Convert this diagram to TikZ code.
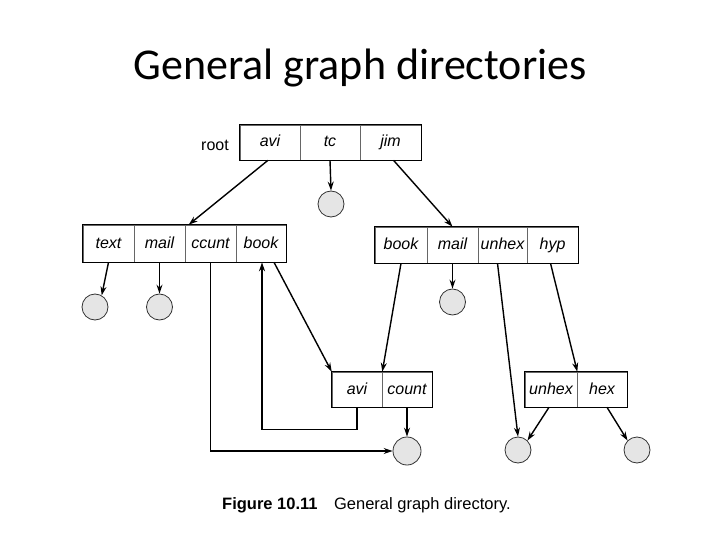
\documentclass[tikz,border=0pt]{standalone}
\usepackage{fontspec}
\setmainfont{Liberation Sans}
\newfontfamily\titlefont{Carlito}
\usetikzlibrary{arrows.meta,calc}
\begin{document}
\begin{tikzpicture}[x=1pt,y=-1pt,
  cell/.style={draw=black!60,line width=0.6pt,inner sep=0pt,minimum height=36pt,text height=12pt,text depth=3pt,font=\fontsize{16}{18}\selectfont\itshape},
  file/.style={circle,draw=black!80,line width=0.8pt,fill=black!10,minimum size=26pt,inner sep=0pt},
  link/.style={line width=1.4pt,-{Stealth[length=9pt,width=6pt]}}]
\useasboundingbox (0,0) rectangle (720,540);
% title
\node (title) at (360,68) {\titlefont\fontsize{44}{50}\selectfont General graph directories};
% root directory
\node (rootlbl) at (215,145) {\fontsize{16}{18}\selectfont root};
\node[cell,minimum width=60pt,minimum height=35pt] (ravi) at (270,142.5) {avi};
\node[cell,minimum width=60pt,minimum height=35pt] (rtc) at (330,142.5) {tc};
\node[cell,minimum width=61pt,minimum height=35pt] (rjim) at (390.5,142.5) {jim};
\draw[line width=1.1pt] (ravi.north west) rectangle (rjim.south east);
\node[file] (ctc) at (331,204) {};
% avi directory
\node[cell,minimum width=51pt,minimum height=37pt] (ltext) at (108.5,243.5) {text};
\node[cell,minimum width=51pt,minimum height=37pt] (lmail) at (159.5,243.5) {mail};
\node[cell,minimum width=51pt,minimum height=37pt] (lccunt) at (210.5,243.5) {ccunt};
\node[cell,minimum width=50pt,minimum height=37pt] (lbook) at (261,243.5) {book};
\draw[line width=1.1pt] (ltext.north west) rectangle (lbook.south east);
\node[file] (ctext) at (95,307) {};
\node[file] (cmail) at (159.5,307) {};
% jim directory
\node[cell,minimum width=52pt] (rbook) at (401,245) {book};
\node[cell,minimum width=51pt] (rmail) at (452.5,245) {mail};
\node[cell,minimum width=49pt] (runhex) at (502.5,245) {unhex};
\node[cell,minimum width=51pt] (rhyp) at (552.5,245) {hyp};
\draw[line width=1.1pt] (rbook.north west) rectangle (rhyp.south east);
\node[file] (cmail2) at (452.5,302) {};
% book directory
\node[cell,minimum width=50pt,minimum height=35pt] (aavi) at (357,389.5) {avi};
\node[cell,minimum width=50pt,minimum height=35pt] (acount) at (407,389.5) {count};
\draw[line width=1.1pt] (aavi.north west) rectangle (acount.south east);
\node[file,minimum size=28pt] (cac) at (407,451) {};
% unhex directory
\node[cell,minimum width=52pt,minimum height=35pt] (hunhex) at (551,389.5) {unhex};
\node[cell,minimum width=50pt,minimum height=35pt] (hhex) at (602,389.5) {hex};
\draw[line width=1.1pt] (hunhex.north west) rectangle (hhex.south east);
\node[file] (cun) at (518,450) {};
\node[file] (chex) at (637,450) {};
% connectors
\draw[link] ($(ravi.south)+(-2,0)$) -- ($(lccunt.north west)+(4,0)$);
\draw[link] (rtc.south) -- (ctc.north);
\draw[link] ($(rjim.south)+(3,0)$) -- (rmail.north);
\draw[link] (ltext.south) -- (ctext.60);
\draw[link] (lmail.south) -- (cmail.north);
\draw[link] (lccunt.south) |- (cac.west);
\draw[link] ($(lbook.south)+(13,0)$) -- (aavi.north west);
\draw[link] (aavi.south) -- ++(0,22) -| ($(lbook.south)+(1,0)$);
\draw[link] (rbook.south) -- (aavi.north east);
\draw[link] (acount.south) -- (cac.north);
\draw[link] (rmail.south) -- (cmail2.north);
\draw[link] ($(runhex.south)+(-5,0)$) -- (cun.north);
\draw[link] ($(rhyp.south)+(-2,0)$) -- (hunhex.north east);
\draw[link] ($(hunhex.south)+(-2,0)$) -- (cun.45);
\draw[link] ($(hhex.south)+(5,0)$) -- (chex.135);
% caption
\node[anchor=west,inner sep=0pt] (cap) at (222,505) {\fontsize{16.5}{20}\selectfont\textbf{Figure 10.11}\hspace{1em}General graph directory.};
\end{tikzpicture}
\end{document}
